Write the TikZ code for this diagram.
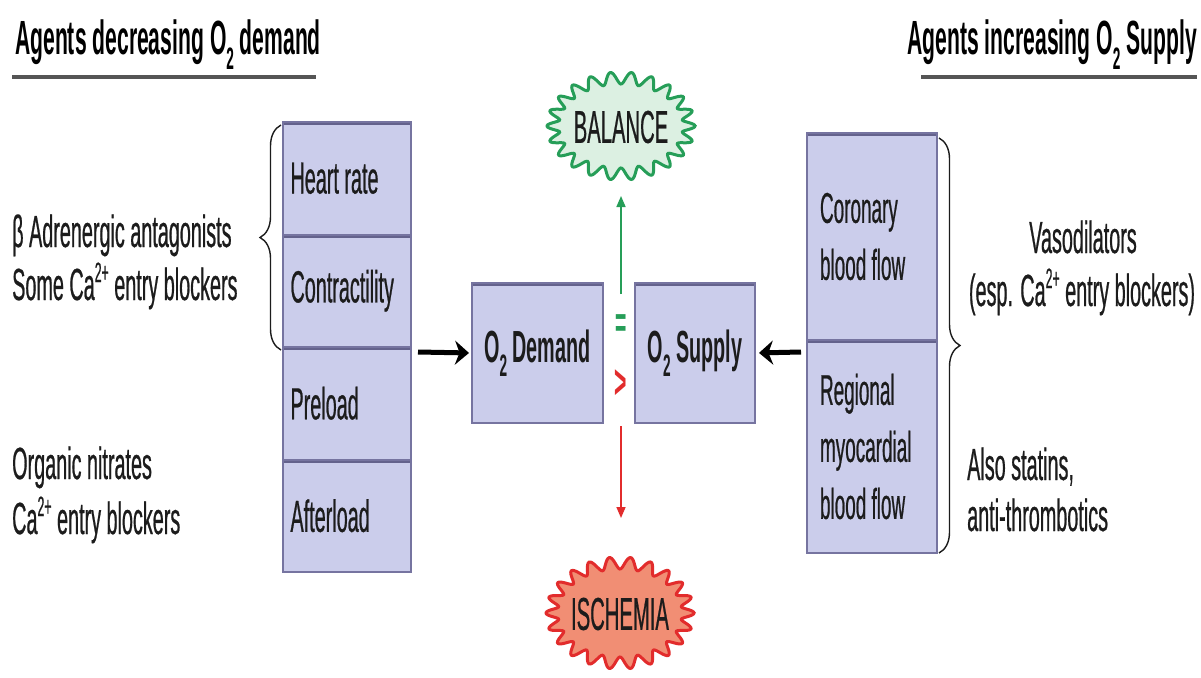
\documentclass[tikz,border=0pt]{standalone}
\usepackage{fontspec}
\setmainfont{Liberation Sans}[FakeStretch=0.44, UprightFeatures={FakeBold=0.5}]
\usetikzlibrary{arrows.meta,decorations.pathreplacing}
\definecolor{boxfill}{RGB}{203,205,235}
\definecolor{boxline}{RGB}{118,116,160}
\definecolor{boxtop}{RGB}{100,98,140}
\definecolor{textc}{RGB}{28,28,28}
\definecolor{balfill}{RGB}{220,240,226}
\definecolor{balline}{RGB}{38,158,88}
\definecolor{ischfill}{RGB}{241,142,116}
\definecolor{ischline}{RGB}{226,44,44}
\definecolor{ulinec}{RGB}{85,85,85}
\newcommand{\mysub}[1]{\raisebox{-0.3em}{\fontsize{31}{31}\selectfont #1}}
\newcommand{\mysup}[1]{\raisebox{0.4em}{\fontsize{28}{28}\selectfont #1}}
\begin{document}
\begin{tikzpicture}[x=1pt,y=-1pt,
  txt/.style={text=textc, inner sep=0pt, font=\fontsize{45}{51}\selectfont},
  hdr/.style={text=black, inner sep=0pt, font=\fontsize{48}{50}\selectfont\bfseries},
  ulinestyle/.style={draw=ulinec, line width=3.5pt},
  boxbase/.style={rectangle, fill=boxfill, draw=boxline, line width=2pt, text=textc,
     path picture={\draw[boxtop, line width=6pt] (path picture bounding box.north west) -- (path picture bounding box.north east);}},
  lbox/.style={boxbase, minimum width=127pt, minimum height=112.5pt, text width=112pt, inner xsep=8pt, align=flush left, font=\fontsize{45}{51}\selectfont},
  rbox/.style={boxbase, text width=104pt, inner xsep=13pt, align=flush left, font=\fontsize{43}{57}\selectfont},
  cbox/.style={boxbase, minimum height=140pt, inner xsep=0pt, align=center, font=\fontsize{45}{51}\selectfont\bfseries},
  bigarrow/.style={draw=black, line width=5pt, -{Stealth[length=14pt,width=24pt]}},
  bracestyle/.style={draw=textc, line width=1.4pt, decorate, decoration={brace, amplitude=21pt}},
]
\useasboundingbox (0,0) rectangle (1201,677);
\fill[white] (0,0) rectangle (1201,677);

% headers
\node[hdr, anchor=base west] (hl) at (15,55) {Agents decreasing O\mysub{2} demand};
\draw[ulinestyle] (12,77) -- (316,77);
\node[hdr, anchor=base east] (hr) at (1197,55) {Agents increasing O\mysub{2} Supply};
\draw[ulinestyle] (921,77) -- (1197,77);

% left column boxes
\node[lbox] (hrate) at (346.5,178.25) {Heart rate};
\node[lbox] (contr) at (346.5,290.75) {Contractility};
\node[lbox] (prel) at (346.5,403.25) {Preload};
\node[lbox] (afterl) at (346.5,515.75) {Afterload};

% right column boxes
\node[rbox, minimum width=130pt, minimum height=207pt] (coron) at (872,236.5) {Coronary\\blood flow};
\node[rbox, minimum width=130pt, minimum height=213pt] (region) at (872,446.5) {Regional\\myocardial\\blood flow};

% center boxes
\node[cbox, minimum width=131pt] (dem) at (537.5,353) {O\mysub{2} Demand};
\node[cbox, minimum width=120pt] (sup) at (695,353) {O\mysub{2} Supply};

% braces
\draw[bracestyle] (281,350) -- (281,125);
\draw[bracestyle] (939,138) -- (939,553);

% left texts
\node[txt, anchor=base west] (l1) at (12,247) {β Adrenergic antagonists};
\node[txt, anchor=base west] (l2) at (12,300) {Some Ca\mysup{2+} entry blockers};
\node[txt, anchor=base west] (l3) at (12,479) {Organic nitrates};
\node[txt, anchor=base west] (l4) at (12,534) {Ca\mysup{2+} entry blockers};

% right texts
\node[txt, anchor=base] (r1) at (1083,253) {Vasodilators};
\node[txt, anchor=base] (r2) at (1082,306) {(esp. Ca\mysup{2+} entry blockers)};
\node[txt, anchor=base west] (r3) at (967,480) {Also statins,};
\node[txt, anchor=base west] (r4) at (967,531) {anti-thrombotics};

% big arrows
\coordinate (lstart) at (418,352);
\coordinate (rstart) at (801,352);
\draw[bigarrow, shorten >=2pt] (lstart) -- (dem.west);
\draw[bigarrow, shorten >=3pt] (rstart) -- (sup.east);

% starbursts
\filldraw[fill=balfill, draw=balline, line width=3pt]
  plot[domain=0:360, samples=400, smooth cycle, variable=\t]
  ({621 + (68 + 6*cos(22*\t))*cos(\t)}, {126 + (48 + 6*cos(22*\t))*sin(\t)});
\node[txt, font=\fontsize{46}{50}\selectfont] (bal) at (621,127) {BALANCE};
\filldraw[fill=ischfill, draw=ischline, line width=3pt]
  plot[domain=0:360, samples=400, smooth cycle, variable=\t]
  ({620 + (68 + 6*cos(22*\t))*cos(\t)}, {613 + (50 + 6*cos(22*\t))*sin(\t)});
\node[txt, font=\fontsize{46}{50}\selectfont] (isch) at (620,614) {ISCHEMIA};

% comparison signs and vertical arrows
\node[text=balline, inner sep=0pt, font=\fontsize{44}{44}\selectfont\bfseries] (eq) at (621,326) {=};
\node[text=ischline, inner sep=0pt, font=\fontsize{48}{48}\selectfont\bfseries] (gt) at (621,384) {>};
\coordinate (gstart) at (621,294);
\coordinate (gend) at (621,196);
\coordinate (rdstart) at (621,426);
\coordinate (rdend) at (621,518);
\draw[balline, line width=1.6pt, -{Triangle[length=11pt,width=9pt]}] (gstart) -- (gend);
\draw[ischline, line width=1.6pt, -{Triangle[length=11pt,width=9pt]}] (rdstart) -- (rdend);
\end{tikzpicture}
\end{document}
